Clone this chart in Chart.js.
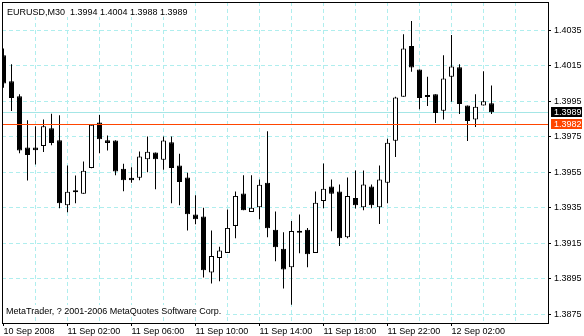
<!DOCTYPE html>
<html><head><meta charset="utf-8">
<script src="https://cdn.jsdelivr.net/npm/chart.js@4.4.1/dist/chart.umd.min.js"></script>
<style>html,body{margin:0;padding:0;background:#fff;overflow:hidden}</style>
</head><body>
<canvas id="c" width="584" height="336" style="display:block;width:584px;height:336px"></canvas>
<script>
// ---- data ----
const symbol = 'EURUSD';
const period = 'M30';
const opens  = [1.40211,1.40064,1.39979,1.39691,1.39691,1.39699,1.39799,1.39731,1.39366,1.39449,
                1.39430,1.39576,1.39832,1.39731,1.39730,1.39571,1.39520,1.39520,1.39625,1.39663,
                1.39622,1.39720,1.39590,1.39522,1.39313,1.39302,1.38987,1.39068,1.39097,1.39249,
                1.39432,1.39328,1.39354,1.39492,1.39228,1.39121,1.39016,1.39210,1.39228,1.39097,
                1.39390,1.39471,1.39443,1.39185,1.39407,1.39354,1.39471,1.39354,1.39492,1.39729,
                1.39977,1.40262,1.40130,1.39977,1.39991,1.39898,1.40090,1.40143,1.39928,1.39848,
                1.39927,1.3994];
const highs  = [1.40248,1.40160,1.39991,1.39844,1.39810,1.39849,1.39881,1.39872,1.39590,1.39533,
                1.39612,1.39819,1.39874,1.39759,1.39731,1.39599,1.39580,1.39669,1.39753,1.39663,
                1.39753,1.39753,1.39656,1.39548,1.39422,1.39351,1.39223,1.39132,1.39341,1.39443,
                1.39535,1.39535,1.39511,1.39782,1.39330,1.39213,1.39277,1.39313,1.39238,1.39443,
                1.39601,1.39511,1.39482,1.39522,1.39561,1.39561,1.39483,1.39590,1.39740,1.39977,
                1.40329,1.40403,1.40130,1.40090,1.39991,1.40211,1.40324,1.40160,1.39928,1.39991,
                1.40120,1.4004];
const lows   = [1.40028,1.39896,1.39659,1.39505,1.39595,1.39665,1.39703,1.39349,1.39326,1.39377,
                1.39430,1.39574,1.39659,1.39674,1.39535,1.39445,1.39492,1.39507,1.39552,1.39456,
                1.39565,1.39377,1.39366,1.39223,1.39258,1.38959,1.38925,1.38938,1.39097,1.39179,
                1.39338,1.39328,1.39287,1.39185,1.39050,1.38897,1.38805,1.39095,1.39016,1.39097,
                1.39349,1.39219,1.39136,1.39179,1.39347,1.39338,1.39349,1.39260,1.39377,1.39637,
                1.39977,1.40117,1.39906,1.39925,1.39829,1.39848,1.39949,1.39880,1.39727,1.39806,
                1.39927,1.3988];
const closes = [1.40051,1.39970,1.39674,1.39648,1.39676,1.39810,1.39716,1.39377,1.39441,1.39439,
                1.39560,1.39819,1.39738,1.39716,1.39556,1.39507,1.39507,1.39640,1.39667,1.39625,
                1.39730,1.39575,1.39496,1.39315,1.39287,1.38999,1.39080,1.39110,1.39238,1.39418,
                1.39338,1.39351,1.39481,1.39236,1.39129,1.39004,1.39221,1.39221,1.39089,1.39379,
                1.39458,1.39430,1.39179,1.39418,1.39366,1.39482,1.39366,1.39511,1.39718,1.39972,
                1.40248,1.40141,1.39970,1.39975,1.39885,1.40079,1.40147,1.39936,1.39840,1.39921,
                1.39951,1.3989];
const timeLabels = ['10 Sep 2008','11 Sep 02:00','11 Sep 06:00','11 Sep 10:00',
                    '11 Sep 14:00','11 Sep 18:00','11 Sep 22:00','12 Sep 02:00'];
const priceTicks = [1.3875,1.3895,1.3915,1.3935,1.3955,1.3975,1.3995,1.4015,1.4035];
const hLinePrice = 1.3982;
const copyrightText = 'MetaTrader, ? 2001-2006 MetaQuotes Software Corp.';

// ---- derived ----
const BARS_PER_LABEL = 8, BARS_PER_GRID = 4;
const last = closes.length - 1;
const idx = opens.map((_, i) => i);
const wickData = idx.map(i => ({x: i, y: [lows[i], highs[i]]}));
const bodyData = idx.map(i => ({x: i, y: [Math.min(opens[i], closes[i]), Math.max(opens[i], closes[i])]}));
const bodyFill = idx.map(i => closes[i] > opens[i] ? '#ffffff' : '#000000');
const gridIdx = [];
for (let v = 0; v <= 64; v += BARS_PER_GRID) gridIdx.push(v);

const FONT = {family: "'Liberation Sans', Arial, sans-serif", size: 9};
const FONT_CSS = "9px 'Liberation Sans', Arial, sans-serif";
const GRID = '#AFEEEE';
const BID = '#A4E6E6';
const ORANGE = '#FF4500';
Chart.defaults.font.family = FONT.family;
Chart.defaults.font.size = FONT.size;
Chart.defaults.color = '#000';

const labelAt = v => (v % BARS_PER_LABEL === 0 && v / BARS_PER_LABEL < timeLabels.length) ? timeLabels[v / BARS_PER_LABEL] : '';

const overlay = {
  id: 'overlay',
  beforeDatasetsDraw(chart) {
    const {ctx, chartArea: a, scales: {y}} = chart;
    const yb = Math.floor(y.getPixelForValue(closes[last])) + 0.5;
    ctx.save();
    ctx.strokeStyle = BID; ctx.lineWidth = 1;
    ctx.beginPath(); ctx.moveTo(a.left, yb); ctx.lineTo(a.right, yb); ctx.stroke();
    ctx.restore();
  },
  afterDatasetsDraw(chart) {
    const {ctx, chartArea: a, scales: {y}} = chart;
    const yo = Math.floor(y.getPixelForValue(hLinePrice)) + 0.5;
    ctx.save();
    ctx.strokeStyle = ORANGE; ctx.lineWidth = 1;
    ctx.beginPath(); ctx.moveTo(a.left, yo); ctx.lineTo(a.right, yo); ctx.stroke();
    ctx.restore();
  },
  afterDraw(chart) {
    const {ctx, chartArea: a, scales: {y}} = chart;
    ctx.save();
    // frame
    ctx.strokeStyle = '#000'; ctx.lineWidth = 1;
    ctx.strokeRect(a.left + 0.5, a.top + 0.5, a.right - a.left, a.bottom - a.top);
    ctx.font = FONT_CSS;
    ctx.textBaseline = 'alphabetic';
    // header
    const header = symbol + ',' + period + '  ' + [opens[last], highs[last], lows[last], closes[last]].map(v => v.toFixed(4)).join(' ');
    const hw = ctx.measureText(header).width;
    ctx.fillStyle = '#fff';
    ctx.fillRect(a.left + 1, a.top + 1, hw + 6, 14);
    ctx.fillStyle = '#000';
    ctx.fillText(header, 7, 15);
    // footer
    const fw = ctx.measureText(copyrightText).width;
    ctx.fillStyle = '#fff';
    ctx.fillRect(a.left + 1, 305, fw + 6, 12);
    ctx.fillStyle = '#000';
    ctx.fillText(copyrightText, 6, 314);
    // price labels
    ctx.textBaseline = 'middle';
    const tag = (price, bg) => {
      const py = Math.floor(y.getPixelForValue(price));
      ctx.fillStyle = bg;
      ctx.fillRect(a.right + 3, py - 5, 31, 10);
      ctx.fillStyle = '#fff';
      ctx.fillText(price.toFixed(4), a.right + 6, py + 0.5);
    };
    tag(closes[last], '#000');
    tag(hLinePrice, ORANGE);
    ctx.restore();
  }
};

new Chart(document.getElementById('c'), {
  type: 'bar',
  data: {
    datasets: [
      {label: 'body', data: bodyData, backgroundColor: bodyFill, borderColor: '#000', borderWidth: 1,
       borderSkipped: false, barThickness: 5, grouped: false, minBarLength: 2, inflateAmount: 0, order: 0},
      {label: 'wick', data: wickData, backgroundColor: '#000', borderWidth: 0,
       barThickness: 1, grouped: false, inflateAmount: 0, order: 1}
    ]
  },
  options: {
    responsive: false, animation: false, devicePixelRatio: 1, events: [],
    layout: {padding: {left: 2, top: 2, right: 0, bottom: 0}},
    plugins: {legend: {display: false}, tooltip: {enabled: false}, title: {display: false}},
    scales: {
      x: {
        type: 'linear', min: -0.1875, max: 68.0625, offset: false, bounds: 'data',
        afterBuildTicks: s => { s.ticks = gridIdx.map(v => ({value: v})); },
        afterFit: s => { s.height = 13; s.paddingLeft = 0; s.paddingRight = 0; },
        ticks: {autoSkip: false, maxRotation: 0, minRotation: 0, align: 'start', padding: 0,
                color: '#000', font: FONT, callback: v => labelAt(v)},
        grid: {offset: false, lineWidth: 1, tickLength: 3,
               color: c => (c.tick && c.tick.value === 0) ? 'rgba(0,0,0,0)' : GRID,
               tickColor: c => (c.tick && labelAt(c.tick.value) !== '') ? '#000' : 'rgba(0,0,0,0)'},
        border: {display: true, color: '#000', width: 1, dash: [4, 3]}
      },
      y: {
        type: 'linear', position: 'right', min: 1.387021, max: 1.4051056, bounds: 'data',
        afterBuildTicks: s => { s.ticks = priceTicks.map(v => ({value: v})); },
        afterFit: s => { s.width = 36; s.paddingTop = 0; s.paddingBottom = 0; },
        ticks: {autoSkip: false, padding: 3, color: '#000', font: FONT, callback: v => v.toFixed(4)},
        grid: {lineWidth: 1, tickLength: 3, color: GRID, tickColor: '#000'},
        border: {display: true, color: '#000', width: 1, dash: [4, 3]}
      }
    }
  },
  plugins: [overlay]
});
</script>
</body></html>
